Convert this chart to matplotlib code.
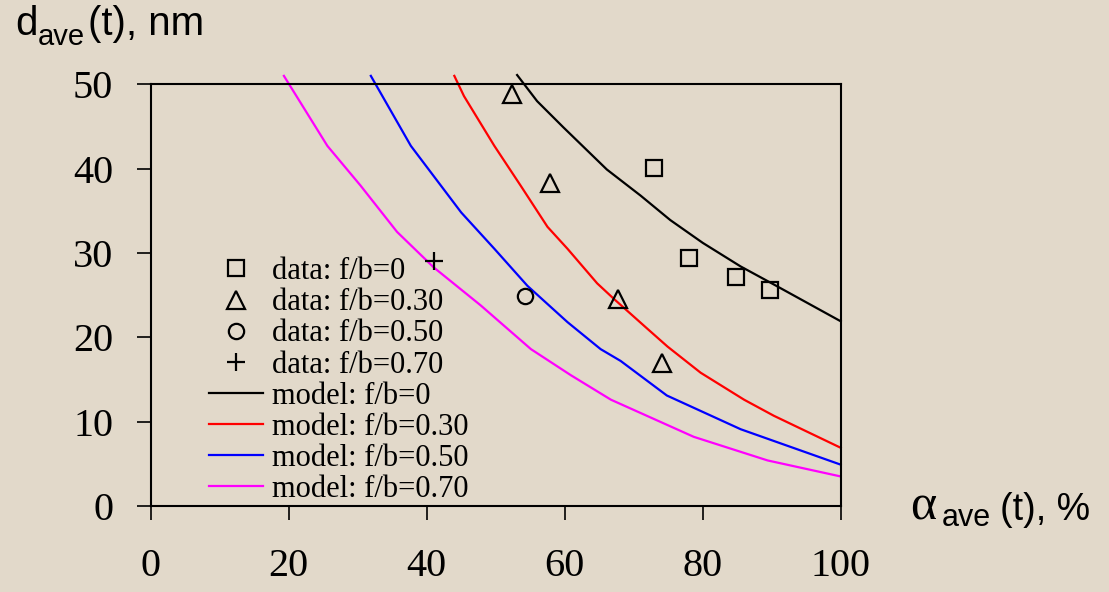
import matplotlib
matplotlib.use("Agg")
import matplotlib.pyplot as plt
from matplotlib.lines import Line2D

# measured particle size vs. conversion, by f/b ratio
sq_x = [72.9, 78.0, 84.8, 89.7]
sq_y = [40.1, 29.4, 27.1, 25.6]
tri_x = [52.3, 57.8, 67.7, 74.1]
tri_y = [48.9, 38.3, 24.5, 17.0]
circ_x = [54.3]
circ_y = [24.9]
plus_x = [41.0]
plus_y = [29.0]

# model curves
m0_x = [53.1, 56.0, 59.8, 66.1, 71.0, 75.3, 80.0, 85.5, 90.0, 100.0]
m0_y = [51.1, 48.0, 44.9, 39.9, 36.8, 33.9, 31.2, 28.4, 26.4, 21.9]
m30_x = [44.0, 45.4, 49.8, 53.6, 57.5, 60.4, 64.7, 67.2, 72.0, 74.9, 79.7, 86.0, 90.3, 100.0]
m30_y = [51.0, 48.6, 42.7, 38.0, 33.1, 30.5, 26.4, 24.5, 21.0, 18.9, 15.8, 12.6, 10.7, 6.9]
m50_x = [31.9, 37.7, 45.0, 49.8, 54.6, 60.4, 65.2, 68.1, 74.8, 85.5, 100.0]
m50_y = [51.0, 42.7, 34.8, 30.5, 26.1, 21.8, 18.6, 17.2, 13.1, 9.1, 4.9]
m70_x = [19.3, 25.6, 30.4, 35.7, 41.0, 47.8, 55.1, 60.9, 66.7, 78.7, 89.4, 100.0]
m70_y = [51.0, 42.7, 38.0, 32.5, 28.3, 23.8, 18.6, 15.5, 12.6, 8.2, 5.4, 3.5]

x_ticks = [0, 20, 40, 60, 80, 100]
y_ticks = [0, 10, 20, 30, 40, 50]

BG = "#E2D9CA"
serif = "Liberation Serif"
sans = "Liberation Sans"
W, H = 1109, 592

fig = plt.figure(figsize=(W / 100, H / 100), dpi=100, facecolor=BG)
ax = fig.add_axes([0.1359, 0.1453, 0.6222, 0.7123], facecolor=BG)

lw = 1.6
ax.plot(m0_x, m0_y, color="black", lw=lw, clip_on=False)
ax.plot(m30_x, m30_y, color="#FF0000", lw=lw, clip_on=False)
ax.plot(m50_x, m50_y, color="#0000FF", lw=lw, clip_on=False)
ax.plot(m70_x, m70_y, color="#FF00FF", lw=lw, clip_on=False)

mk = dict(linestyle="none", markerfacecolor="none", markeredgecolor="black",
          markeredgewidth=1.6, clip_on=False)
ax.plot(sq_x, sq_y, marker="s", markersize=11, **mk)
ax.plot(tri_x, tri_y, marker="^", markersize=12.5, **mk)
ax.plot(circ_x, circ_y, marker="o", markersize=11, **mk)
ax.plot(plus_x, plus_y, marker="+", markersize=13, **mk)

ax.set_xlim(0, 100)
ax.set_ylim(0, 50)
ax.set_xticks(x_ticks)
ax.set_yticks(y_ticks)
for s in ax.spines.values():
    s.set_linewidth(1.5)
ax.tick_params(axis="y", direction="out", length=10, width=1.2, pad=17,
               labelsize=29)
ax.tick_params(axis="x", direction="out", length=10, width=1.2, pad=20,
               labelsize=29)
for lab in ax.get_xticklabels() + ax.get_yticklabels():
    lab.set_fontfamily(serif)

handles = [
    Line2D([], [], marker="s", markersize=11, **mk),
    Line2D([], [], marker="^", markersize=12.5, **mk),
    Line2D([], [], marker="o", markersize=11, **mk),
    Line2D([], [], marker="+", markersize=13, **mk),
    Line2D([], [], color="black", lw=lw),
    Line2D([], [], color="#FF0000", lw=lw),
    Line2D([], [], color="#0000FF", lw=lw),
    Line2D([], [], color="#FF00FF", lw=lw),
]
labels = ["data: f/b=0", "data: f/b=0.30", "data: f/b=0.50", "data: f/b=0.70",
          "model: f/b=0", "model: f/b=0.30", "model: f/b=0.50", "model: f/b=0.70"]
ax.legend(handles, labels, loc="upper left", bbox_to_anchor=(0.085, 0.59),
          frameon=False, prop={"family": serif, "size": 22},
          labelspacing=0.07, handlelength=1.75, handletextpad=0.3,
          borderpad=0, borderaxespad=0)


def px_text(x, y, s, size, family=sans):
    # place a text piece by its left/baseline position in pixels from the top-left
    fig.text(x / W, 1 - y / H, s, fontsize=size, family=family,
             ha="left", va="baseline")


# axis titles, assembled from pieces so the subscripts sit like the slide text
px_text(15, 35, "d", 29)
px_text(38, 45, "ave", 21)
px_text(88, 35, "(t), nm", 29)

px_text(910, 520, "α", 36, family=serif)
px_text(942, 526, "ave", 22)
px_text(1000, 520, "(t), %", 27)

fig.savefig("out.png", dpi=100, facecolor=BG)
